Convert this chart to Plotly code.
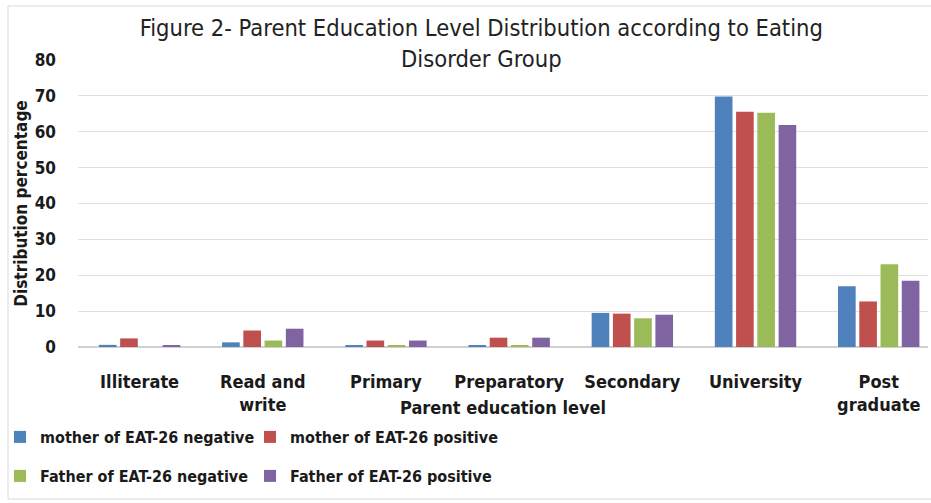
import plotly.graph_objects as go

categories = ["Illiterate", "Read and<br>write", "Primary", "Preparatory", "Secondary", "University", "Post<br>graduate"]
series_names = ["mother of EAT-26 negative", "mother of EAT-26 positive",
                "Father of EAT-26 negative", "Father of EAT-26 positive"]
mother_neg = [0.6, 1.3, 0.5, 0.3, 9.5, 69.8, 16.9]
mother_pos = [2.4, 4.6, 1.8, 2.6, 9.3, 65.6, 12.7]
father_neg = [0.0, 1.8, 0.3, 0.5, 8.0, 65.3, 23.1]
father_pos = [0.3, 5.1, 1.8, 2.6, 9.0, 61.9, 18.5]
y_ticks = [0, 10, 20, 30, 40, 50, 60, 70, 80]
colors = ["#4F81BD", "#C0504D", "#9BBB59", "#8064A2"]

FONT = "Liberation Sans Narrow, Arial Narrow, DejaVu Sans Condensed, sans-serif"

fig = go.Figure()
data = [mother_neg, mother_pos, father_neg, father_pos]
legends = ["legend", "legend", "legend2", "legend2"]
for name, vals, c, lg in zip(series_names, data, colors, legends):
    fig.add_trace(go.Bar(x=categories, y=vals, name=name, marker_color=c,
                         marker_line_width=0, legend=lg))

leg_common = dict(orientation="h", xref="container", yref="container", x=0.0,
                  xanchor="left", yanchor="middle", entrywidth=205, itemwidth=30,
                  bgcolor="rgba(0,0,0,0)",
                  font=dict(family=FONT, size=16, color="#1a1a1a", weight="bold"),
                  tracegroupgap=0)

fig.update_layout(
    width=931, height=503,
    margin=dict(l=78, r=3, t=60, b=156, autoexpand=False),
    paper_bgcolor="white", plot_bgcolor="white",
    font=dict(family=FONT, color="#1a1a1a"),
    barmode="group", bargap=0.31, bargroupgap=0.17,
    title=dict(text="Figure 2- Parent Education Level Distribution according to Eating<br>Disorder Group",
               x=0.517, xanchor="center", y=0.928, yanchor="middle",
               font=dict(family=FONT, size=23.5, color="#222222")),
    xaxis=dict(range=[-0.5, 6.4], showgrid=False, showline=False, ticks="",
               ticklabelstandoff=22,
               tickfont=dict(family=FONT, size=18, color="#1a1a1a", weight="bold")),
    yaxis=dict(range=[0, 80], tickvals=y_ticks, showgrid=True, gridcolor="#E0E0E0",
               zeroline=True, zerolinecolor="#D0D0D0", showline=False, ticks="",
               ticklabelstandoff=21,
               tickfont=dict(family=FONT, size=17, color="#1a1a1a", weight="bold"),
               title=dict(text="Distribution percentage", standoff=2,
                          font=dict(family=FONT, size=17, color="#1a1a1a", weight="bold"))),
    legend=dict(leg_common, y=1 - 437 / 503),
    legend2=dict(leg_common, y=1 - 476 / 503),
    showlegend=True,
)

fig.add_annotation(text="Parent education level", xref="paper", yref="paper",
                   x=0.5, y=(347 - 407) / 287, xanchor="center", yanchor="middle",
                   showarrow=False,
                   font=dict(family=FONT, size=18, color="#1a1a1a", weight="bold"))

fig.add_shape(type="rect", xref="paper", yref="paper",
              x0=(8 - 78) / 850, x1=(935 - 78) / 850,
              y0=(347 - 499) / 287, y1=(347 - 6) / 287,
              line=dict(color="#D9D9D9", width=1), fillcolor="rgba(0,0,0,0)", layer="above")

fig.write_html("out.html")
